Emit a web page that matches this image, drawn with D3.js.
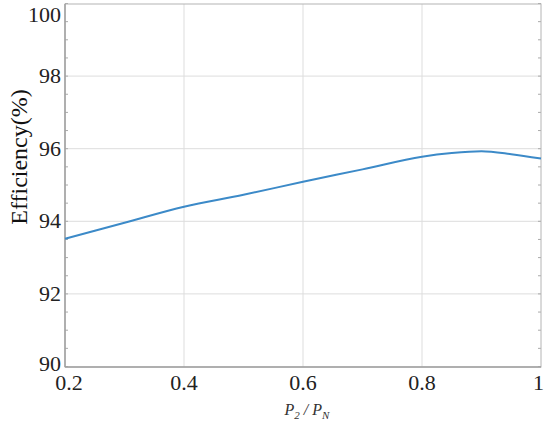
<!DOCTYPE html>
<html>
<head>
<meta charset="utf-8">
<script src="https://cdn.jsdelivr.net/npm/d3@7"></script>
<style>
  html, body { margin: 0; padding: 0; background: #fff; }
  svg { display: block; }
</style>
</head>
<body>
<svg id="chart" width="550" height="424"></svg>
<script>
const loadRatio = [0.2, 0.3, 0.4, 0.5, 0.6, 0.7, 0.8, 0.85, 0.9, 0.95, 1.0];
const efficiency = [93.52, 93.96, 94.40, 94.73, 95.09, 95.43, 95.78, 95.88, 95.93, 95.85, 95.73];
const xTicks = [0.2, 0.4, 0.6, 0.8, 1];
const yTicks = [90, 92, 94, 96, 98, 100];
const yMinorTicks = d3.range(90, 100.01, 0.5);

(function () {
const svg = d3.select("#chart");
const pLeft = 65, pRight = 541, pTop = 4, pBottom = 367;
const x = d3.scaleLinear().domain([0.2, 1]).range([pLeft, pRight]);
const y = d3.scaleLinear().domain([90, 100]).range([366.5, 3.5]);

const font = "'Times New Roman', Tinos, 'Liberation Serif', serif";

// grid
svg.append("g").selectAll("line").data(xTicks.slice(1, -1)).join("line")
  .attr("x1", d => x(d)).attr("x2", d => x(d)).attr("y1", pTop).attr("y2", pBottom)
  .attr("stroke", "#dddddd").attr("stroke-width", 1);
svg.append("g").selectAll("line").data(yTicks.slice(1, -1)).join("line")
  .attr("x1", pLeft).attr("x2", pRight).attr("y1", d => y(d)).attr("y2", d => y(d))
  .attr("stroke", "#dddddd").attr("stroke-width", 1);

// minor ticks left & right
svg.append("g").selectAll("line").data(yMinorTicks).join("line")
  .attr("x1", pLeft).attr("x2", pLeft + 3).attr("y1", d => y(d)).attr("y2", d => y(d))
  .attr("stroke", "#aaaaaa");
svg.append("g").selectAll("line").data(yMinorTicks).join("line")
  .attr("x1", pRight - 3).attr("x2", pRight).attr("y1", d => y(d)).attr("y2", d => y(d))
  .attr("stroke", "#aaaaaa");

// frame
svg.append("rect").attr("x", pLeft).attr("y", pTop).attr("width", pRight - pLeft).attr("height", pBottom - pTop)
  .attr("fill", "none").attr("stroke", "#b4b4b4").attr("stroke-width", 1);
svg.append("line").attr("x1", pLeft).attr("x2", pLeft).attr("y1", pTop).attr("y2", pBottom)
  .attr("stroke", "#a0a0a0").attr("stroke-width", 1.5);
svg.append("line").attr("x1", pLeft).attr("x2", pRight).attr("y1", pBottom).attr("y2", pBottom)
  .attr("stroke", "#a0a0a0").attr("stroke-width", 1.5);

// line
const line = d3.line().x((d, i) => x(loadRatio[i])).y(d => y(d)).curve(d3.curveMonotoneX);
svg.append("path").datum(efficiency).attr("d", line)
  .attr("fill", "none").attr("stroke", "#3c8ac8").attr("stroke-width", 2);

// tick labels
svg.append("g").selectAll("text").data(yTicks).join("text")
  .attr("x", pLeft - 4).attr("y", d => Math.min(Math.max(y(d) + 7, 22), 371))
  .attr("text-anchor", "end").attr("font-family", font).attr("font-size", 22).attr("fill", "#222")
  .text(d => d);
svg.append("g").selectAll("text").data(xTicks).join("text")
  .attr("x", d => x(d)).attr("y", 390)
  .attr("text-anchor", d => d === 1 ? "end" : "middle")
  .attr("dx", d => d === 1 ? 3 : (d === 0.2 ? 4 : 0))
  .attr("font-family", font).attr("font-size", 22).attr("fill", "#222")
  .text(d => d);

// axis labels
svg.append("text").attr("transform", "translate(27,157) rotate(-90)")
  .attr("text-anchor", "middle").attr("font-family", font).attr("font-size", 24).attr("fill", "#111")
  .text("Efficiency(%)");

const xl = svg.append("text").attr("x", 307).attr("y", 415).attr("text-anchor", "middle")
  .attr("font-family", font).attr("font-size", 16).attr("fill", "#333").attr("font-style", "italic");
xl.append("tspan").text("P");
xl.append("tspan").attr("font-size", 11).attr("dy", 4).text("2");
xl.append("tspan").attr("dy", -4).text(" / P");
xl.append("tspan").attr("font-size", 11).attr("dy", 4).text("N");
})();
</script>
</body>
</html>
